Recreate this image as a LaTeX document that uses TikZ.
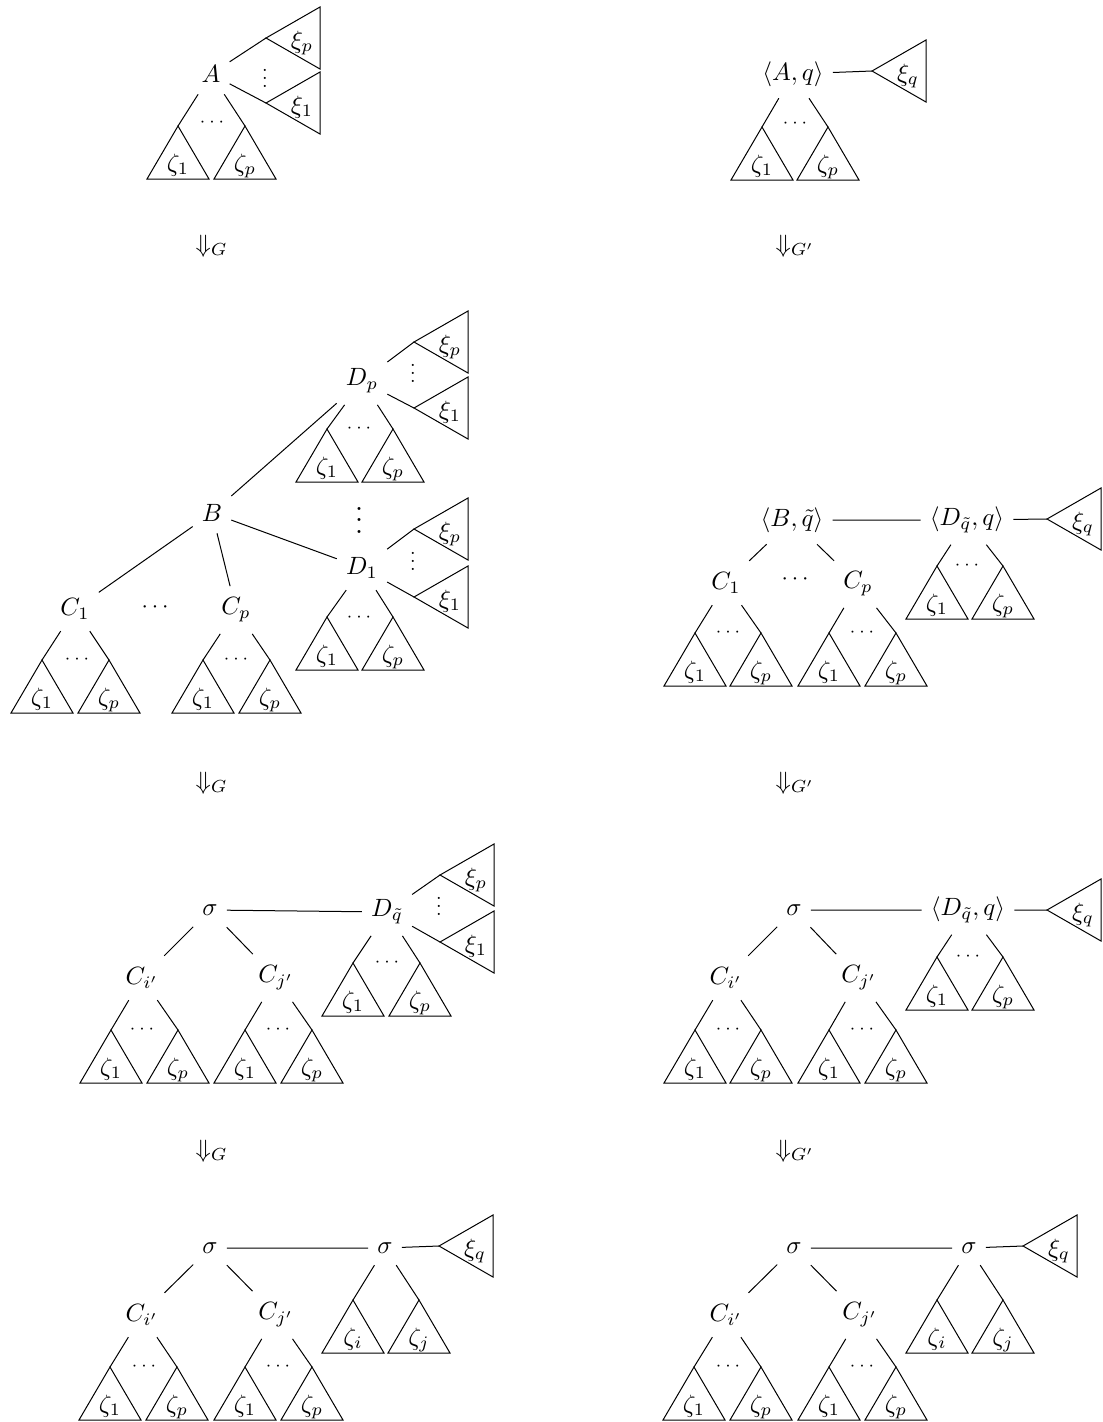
\documentclass[tikz,border=0pt]{standalone}
\usepackage{graphicx}
\newcommand\myvdots{\vbox{\baselineskip4pt \lineskiplimit0pt \hbox{.}\hbox{.}\hbox{.}}}
\newcommand\dtri[3]{\coordinate (#1) at (#2);
  \draw (#1) -- ++(-31,53) -- ++(62,0) -- cycle;
  \path (#1) ++(0,45) node[lab] (#1l) {$#3$};}
\newcommand\ltri[3]{\coordinate (#1) at (#2);
  \draw (#1) -- ++(54,-31) -- ++(0,62) -- cycle;
  \path (#1) ++(36,10) node[lab] (#1l) {$#3$};}
\newcommand\sdh[2]{\node[lab] (#1) at (#2) {\scriptsize$\cdots$};}
\newcommand\svd[2]{\node[lab] (#1) at (#2) {\scalebox{0.8}{\myvdots}};}
\begin{document}
\begin{tikzpicture}[x=0.4pt,y=-0.4pt,
  tn/.style={inner xsep=3.5pt,inner ysep=4.5pt},
  lab/.style={inner sep=0pt,anchor=base},
  arr/.style={inner sep=0pt,anchor=base west}]
\useasboundingbox (0,0) rectangle (1103,1422);

% ---------- panel 1 left ----------
\node[tn] (A) at (211,74) {$A$};
\dtri{pa1}{178,126}{\zeta_1}
\dtri{pa2}{245,126}{\zeta_p}
\sdh{pad}{212,126}
\ltri{px1}{266,38}{\xi_p}
\ltri{px2}{266,103}{\xi_1}
\svd{pxd}{265,87}
\draw (A) -- (px1) (A) -- (px2) (A) -- (pa1) (A) -- (pa2);

% ---------- panel 1 right ----------
\node[tn] (Aq) at (793,74) {$\langle A,q\rangle$};
\ltri{qx}{872,71}{\xi_q}
\dtri{qa1}{762,127}{\zeta_1}
\dtri{qa2}{828,127}{\zeta_p}
\sdh{qad}{795,127}
\draw (Aq) -- (qx) (Aq) -- (qa1) (Aq) -- (qa2);

% ---------- arrows ----------
\node[arr] (r1l) at (195,252) {$\Downarrow_G$};
\node[arr] (r1r) at (775,252) {$\Downarrow_{G'}$};
\node[arr] (r2l) at (195,789) {$\Downarrow_G$};
\node[arr] (r2r) at (775,789) {$\Downarrow_{G'}$};
\node[arr] (r3l) at (195,1157) {$\Downarrow_G$};
\node[arr] (r3r) at (775,1157) {$\Downarrow_{G'}$};

% ---------- panel 2 left ----------
\node[tn] (B) at (212,513) {$B$};
\node[tn] (Dp) at (362,381) {$D_p$};
\node[tn] (D1) at (362,568) {$D_1$};
\node[lab] (Dvd) at (359,533) {\scalebox{1.15}{\myvdots}};
\ltri{dpx1}{414,342}{\xi_p}
\ltri{dpx2}{414,408}{\xi_1}
\svd{dpxd}{413,382}
\dtri{dpa1}{327,429}{\zeta_1}
\dtri{dpa2}{393,429}{\zeta_p}
\sdh{dpad}{359,432}
\ltri{d1x1}{414,529}{\xi_p}
\ltri{d1x2}{414,597}{\xi_1}
\svd{d1xd}{413,570}
\dtri{d1a1}{327,617}{\zeta_1}
\dtri{d1a2}{393,617}{\zeta_p}
\sdh{d1ad}{359,621}
\node[tn] (C1) at (75,609) {$C_1$};
\node[tn] (Cp) at (236,610) {$C_p$};
\node[lab] (Cdd) at (155,612) {\small$\cdots$};
\dtri{c1a1}{42,660}{\zeta_1}
\dtri{c1a2}{109,660}{\zeta_p}
\sdh{c1ad}{77,663}
\dtri{cpa1}{203,660}{\zeta_1}
\dtri{cpa2}{270,660}{\zeta_p}
\sdh{cpad}{236,663}
\draw (B) -- (Dp) (B) -- (D1) (B) -- (C1) (B) -- (Cp);
\draw (Dp) -- (dpx1) (Dp) -- (dpx2) (Dp) -- (dpa1) (Dp) -- (dpa2);
\draw (D1) -- (d1x1) (D1) -- (d1x2) (D1) -- (d1a1) (D1) -- (d1a2);
\draw (C1) -- (c1a1) (C1) -- (c1a2) (Cp) -- (cpa1) (Cp) -- (cpa2);

% ---------- panel 2 right ----------
\node[tn] (Bq) at (792,520) {$\langle B,\tilde q\rangle$};
\node[tn] (Dq) at (967,520) {$\langle D_{\tilde q},q\rangle$};
\ltri{dqx}{1047,519}{\xi_q}
\node[tn] (RC1) at (726,583) {$C_1$};
\node[tn] (RCp) at (858,584) {$C_p$};
\node[lab] (RCdd) at (795,584) {\small$\cdots$};
\dtri{rc1a1}{695,633}{\zeta_1}
\dtri{rc1a2}{761,633}{\zeta_p}
\sdh{rc1ad}{728,636}
\dtri{rcpa1}{829,633}{\zeta_1}
\dtri{rcpa2}{896,633}{\zeta_p}
\sdh{rcpad}{862,636}
\dtri{dqa1}{937,566}{\zeta_1}
\dtri{dqa2}{1003,566}{\zeta_p}
\sdh{dqad}{967,569}
\draw (Bq) -- (Dq) (Dq) -- (dqx) (Bq) -- (RC1) (Bq) -- (RCp);
\draw (RC1) -- (rc1a1) (RC1) -- (rc1a2) (RCp) -- (rcpa1) (RCp) -- (rcpa2);
\draw (Dq) -- (dqa1) (Dq) -- (dqa2);

% ---------- panel 3 left ----------
\node[tn] (s3) at (210,910) {$\sigma$};
\node[tn] (D3) at (387,912) {$D_{\tilde q}$};
\ltri{d3x1}{440,875}{\xi_p}
\ltri{d3x2}{440,942}{\xi_1}
\svd{d3xd}{439,915}
\node[tn] (Ci3) at (142,978) {$C_{i'}$};
\node[tn] (Cj3) at (276,978) {$C_{j'}$};
\dtri{ci3a1}{111,1030}{\zeta_1}
\dtri{ci3a2}{178,1030}{\zeta_p}
\sdh{ci3ad}{142,1033}
\dtri{cj3a1}{245,1030}{\zeta_1}
\dtri{cj3a2}{312,1030}{\zeta_p}
\sdh{cj3ad}{278,1033}
\dtri{d3a1}{353,963}{\zeta_1}
\dtri{d3a2}{420,963}{\zeta_p}
\sdh{d3ad}{387,966}
\draw (s3) -- (D3) (D3) -- (d3x1) (D3) -- (d3x2) (s3) -- (Ci3) (s3) -- (Cj3);
\draw (Ci3) -- (ci3a1) (Ci3) -- (ci3a2) (Cj3) -- (cj3a1) (Cj3) -- (cj3a2);
\draw (D3) -- (d3a1) (D3) -- (d3a2);

% ---------- panel 3 right ----------
\node[tn] (t3) at (794,910) {$\sigma$};
\node[tn] (E3) at (968,910) {$\langle D_{\tilde q},q\rangle$};
\ltri{e3x}{1047,910}{\xi_q}
\node[tn] (Ri3) at (726,978) {$C_{i'}$};
\node[tn] (Rj3) at (859,978) {$C_{j'}$};
\dtri{ri3a1}{695,1030}{\zeta_1}
\dtri{ri3a2}{761,1030}{\zeta_p}
\sdh{ri3ad}{728,1033}
\dtri{rj3a1}{829,1030}{\zeta_1}
\dtri{rj3a2}{896,1030}{\zeta_p}
\sdh{rj3ad}{862,1033}
\dtri{e3a1}{937,957}{\zeta_1}
\dtri{e3a2}{1003,957}{\zeta_p}
\sdh{e3ad}{968,960}
\draw (t3) -- (E3) (E3) -- (e3x) (t3) -- (Ri3) (t3) -- (Rj3);
\draw (Ri3) -- (ri3a1) (Ri3) -- (ri3a2) (Rj3) -- (rj3a1) (Rj3) -- (rj3a2);
\draw (E3) -- (e3a1) (E3) -- (e3a2);

% ---------- panel 4 left ----------
\node[tn] (s4) at (210,1248) {$\sigma$};
\node[tn] (u4) at (385,1248) {$\sigma$};
\ltri{u4x}{439,1246}{\xi_q}
\node[tn] (Ci4) at (142,1315) {$C_{i'}$};
\node[tn] (Cj4) at (276,1315) {$C_{j'}$};
\dtri{ci4a1}{110,1367}{\zeta_1}
\dtri{ci4a2}{177,1367}{\zeta_p}
\sdh{ci4ad}{144,1370}
\dtri{cj4a1}{245,1367}{\zeta_1}
\dtri{cj4a2}{312,1367}{\zeta_p}
\sdh{cj4ad}{278,1370}
\dtri{u4a1}{353,1300}{\zeta_i}
\dtri{u4a2}{419,1300}{\zeta_j}
\draw (s4) -- (u4) (u4) -- (u4x) (s4) -- (Ci4) (s4) -- (Cj4);
\draw (Ci4) -- (ci4a1) (Ci4) -- (ci4a2) (Cj4) -- (cj4a1) (Cj4) -- (cj4a2);
\draw (u4) -- (u4a1) (u4) -- (u4a2);

% ---------- panel 4 right ----------
\node[tn] (t4) at (794,1248) {$\sigma$};
\node[tn] (v4) at (969,1248) {$\sigma$};
\ltri{v4x}{1023,1246}{\xi_q}
\node[tn] (Ri4) at (726,1315) {$C_{i'}$};
\node[tn] (Rj4) at (860,1315) {$C_{j'}$};
\dtri{ri4a1}{694,1367}{\zeta_1}
\dtri{ri4a2}{761,1367}{\zeta_p}
\sdh{ri4ad}{728,1370}
\dtri{rj4a1}{829,1367}{\zeta_1}
\dtri{rj4a2}{896,1367}{\zeta_p}
\sdh{rj4ad}{862,1370}
\dtri{v4a1}{937,1300}{\zeta_i}
\dtri{v4a2}{1003,1300}{\zeta_j}
\draw (t4) -- (v4) (v4) -- (v4x) (t4) -- (Ri4) (t4) -- (Rj4);
\draw (Ri4) -- (ri4a1) (Ri4) -- (ri4a2) (Rj4) -- (rj4a1) (Rj4) -- (rj4a2);
\draw (v4) -- (v4a1) (v4) -- (v4a2);
\end{tikzpicture}
\end{document}
